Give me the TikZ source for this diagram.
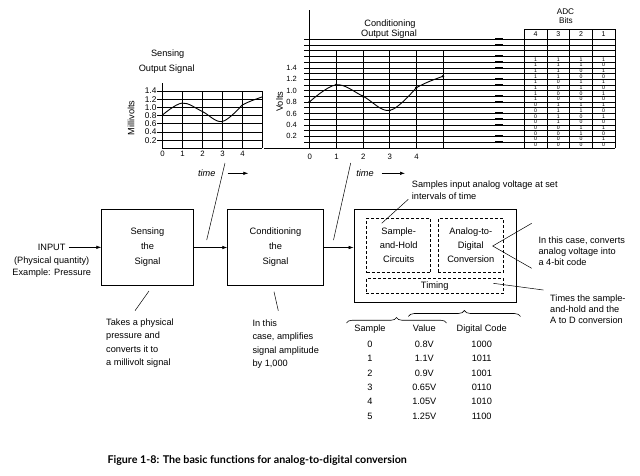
\documentclass[tikz,border=0pt]{standalone}
\usepackage{fontspec}
\setmainfont{Liberation Sans}
\newfontfamily\capfont[Ligatures=NoCommon]{Lato}
\usetikzlibrary{arrows.meta,decorations.pathreplacing}
\begin{document}
\begin{tikzpicture}[x=1pt,y=-1pt,
  every node/.style={inner sep=0pt, font=\fontsize{9.2}{11}\selectfont},
  cl/.style={text height=6.6pt, text depth=0pt},
  blk/.style={draw, line width=0.75pt, align=center, font=\fontsize{9.3}{15}\selectfont},
  dbox/.style={draw, dash pattern=on 3pt off 2pt, line width=0.6pt, align=center, font=\fontsize{9.3}{14}\selectfont},
  arr/.style={-{Latex[length=5pt,width=3.5pt]}, line width=0.6pt},
  ann/.style={line width=0.5pt},
  anntxt/.style={anchor=north west, align=left},
  gridl/.style={line width=0.4pt},
  axisl/.style={line width=0.9pt},
  tick/.style={font=\fontsize{8.3}{9}\selectfont, text height=6pt, text depth=0pt},
  ctick/.style={font=\fontsize{7.5}{9}\selectfont, text height=5.4pt, text depth=0pt},
  num/.style={font=\fontsize{7.8}{9}\selectfont, text height=5.6pt, text depth=0pt},
  dig/.style={font=\fontsize{5.2}{6}\selectfont, text height=3.7pt, text depth=0pt},
  curve/.style={line width=0.9pt}]
\useasboundingbox (0,0) rectangle (640,475);

% ---------------- Sensing output graph ----------------
\node[cl] (st1) at (167.7,52.7) {Sensing};
\node[cl] (st2) at (166.7,68.3) {Output Signal};
\node[cl, rotate=90] (mv) at (131,118) {Millivolts};
\begin{scope}[shift={(162pt,-148.2pt)}, x=20pt, y=41pt]
  \foreach \v in {0.2,0.4,0.6,0.8,1.0,1.2,1.4}{
    \draw[gridl] (0,\v) -- (5,\v);
    \draw[gridl] (-0.25,\v) -- (0,\v);
  }
  \foreach \v/\l in {0.2/0.2,0.4/0.4,0.6/0.6,0.8/0.8,1.0/1.0,1.2/1.2,1.4/1.4}
    \node[tick, anchor=east] (sl\l) at (-0.27,\v) {\l};
  \foreach \i in {1,...,5}
    \draw[gridl] (\i,0) -- (\i,1.4);
  \foreach \i in {0,...,4}
    \node[num] (sn\i) at (\i+0.03,-0.125) {\i};
  \draw[axisl] (0,1.59) -- (0,0) -- (5,0);
  \draw[curve] plot[smooth, tension=0.6] coordinates {(0,0.8) (1,1.1) (2,0.9) (3,0.65) (4,1.05)}
    to[out=28,in=200] (5,1.25);
\end{scope}
\node[cl, font=\itshape\fontsize{9.2}{11}\selectfont] (time1) at (206.7,173.3) {time};
\coordinate (ta1) at (227.7,173.3);
\coordinate (tb1) at (248.3,173.3);
\draw[arr] (ta1) -- (tb1);
\coordinate (s1a) at (225,163);
\coordinate (s1b) at (206.7,240);
\draw[ann] (s1a) -- (s1b);

% ---------------- Conditioning output graph ----------------
\node[cl] (ct1) at (390,22.7) {Conditioning};
\node[cl] (ct2) at (389,33.3) {Output Signal};
\node[cl, rotate=90] (vl) at (279.5,101.7) {Volts};
\foreach \k in {1,...,19}{
  \pgfmathsetmacro\yy{147.5-5.7*\k}
  \draw[gridl] (304,\yy) -- (615,\yy);
  \draw[line width=1.7pt] (495,\yy) -- (502.5,\yy);
}
\foreach \i in {1,...,5}{
  \pgfmathsetmacro\xx{309.5+26.7*\i}
  \draw[gridl] (\xx,50.6) -- (\xx,148);
}
\draw[axisl] (309.5,10) -- (309.5,148);
\draw[axisl] (264,148) -- (615,148);
\foreach \v/\l in {2/0.2,4/0.4,6/0.6,8/0.8,10/1.0,12/1.2,14/1.4}{
  \pgfmathsetmacro\yy{147.5-5.7*\v}
  \node[ctick, anchor=east] (cl\v) at (297,\yy) {\l};
}
\foreach \i in {0,...,4}{
  \pgfmathsetmacro\xx{309.8+26.7*\i}
  \node[num] (cn\i) at (\xx,156.7) {\i};
}
\begin{scope}[shift={(309.5pt,-147.5pt)}, x=26.7pt, y=57pt]
  \draw[curve] plot[smooth, tension=0.6] coordinates {(0,0.8) (1,1.1) (2,0.9) (3,0.65) (4,1.05)}
    to[out=28,in=200] (5,1.25);
  \foreach \i/\v in {0/0.8,1/1.1,2/0.9,3/0.65,4/1.05,5/1.25}
    \fill (\i,\v) circle[radius=1.3pt];
\end{scope}
\node[cl, font=\itshape\fontsize{9.2}{11}\selectfont] (time2) at (365,173.3) {time};
\coordinate (ta2) at (381.7,173.3);
\coordinate (tb2) at (405,173.3);
\draw[arr] (ta2) -- (tb2);
\coordinate (s2a) at (350.7,163);
\coordinate (s2b) at (333.5,240);
\draw[ann] (s2a) -- (s2b);

% ---------------- ADC bits table ----------------
\node[cl, font=\fontsize{8.2}{9}\selectfont, text height=5.9pt] (adch) at (565.5,11.5) {ADC};
\node[cl, font=\fontsize{8.2}{9}\selectfont, text height=5.9pt] (bitsh) at (566,20.5) {Bits};
\draw[gridl] (524.3,29) -- (615,29);
\foreach \j in {0,...,4}{
  \pgfmathsetmacro\xx{524.3+22.675*\j}
  \draw[gridl] (\xx,29) -- (\xx,148);
}
\foreach \c/\h in {0/4,1/3,2/2,3/1}{
  \pgfmathsetmacro\xx{535.6+22.675*\c}
  \node[font=\fontsize{7}{8}\selectfont, text height=5pt, text depth=0pt] (hd\h) at (\xx,34.2) {\h};
}
\foreach \n in {0,...,15}{
  \pgfmathsetmacro\yy{147.5-5.7*(\n+0.5)}
  \foreach \c/\w in {0/8,1/4,2/2,3/1}{
    \pgfmathtruncatemacro\bit{mod(floor(\n/\w),2)}
    \pgfmathsetmacro\xx{535.6+22.675*\c}
    \node[dig] (d\n-\c) at (\xx,\yy) {\bit};
  }
}

% ---------------- Block diagram ----------------
\node[cl] (input) at (51.7,247.3) {INPUT};
\node[align=center, anchor=north, font=\fontsize{9.2}{12.6}\selectfont] (indesc) at (51.7,256.2) {(Physical quantity)\\Example: Pressure};
\node[blk, minimum width=91.6pt, minimum height=76.4pt] (sens) at (147.5,247.5) {Sensing\\the\\Signal};
\node[blk, minimum width=95.6pt, minimum height=76.4pt] (cond) at (275.5,247.5) {Conditioning\\the\\Signal};
\node[draw, line width=0.75pt, minimum width=162pt, minimum height=93.4pt] (adc) at (435,256) {};
\node[dbox, minimum width=64pt, minimum height=54.4pt] (sh) at (398.7,245.5) {Sample-\\and-Hold\\Circuits};
\node[dbox, minimum width=65pt, minimum height=54.4pt] (ad) at (470.8,245.5) {Analog-to-\\Digital\\Conversion};
\node[dbox, minimum width=137.3pt, minimum height=15pt] (tim) at (434.7,285.8) {Timing};

\draw[arr, shorten <=3pt] (input.east) -- (input.east -| sens.west);
\draw[arr] (sens.east) -- (sens.east -| cond.west);
\draw[arr] (cond.east) -- (cond.east -| adc.west);

% ---------------- Annotations ----------------
\node[anntxt, font=\fontsize{9.2}{13.3}\selectfont] (senstxt) at (106,318.6) {Takes a physical\\pressure and\\converts it to\\a millivolt signal};
\coordinate (a1a) at (149,291);
\coordinate (a1b) at (135,310.7);
\draw[ann] (a1a) -- (a1b);

\node[anntxt, font=\fontsize{9.2}{13.3}\selectfont] (condtxt) at (252.3,319.6) {In this\\case, amplifies\\signal amplitude\\by 1,000};
\coordinate (a2a) at (274,291.7);
\coordinate (a2b) at (278.3,310.7);
\draw[ann] (a2a) -- (a2b);

\node[anntxt, font=\fontsize{9.2}{12.7}\selectfont] (samptxt) at (411.7,180.4) {Samples input analog voltage at set\\intervals of time};
\coordinate (a3a) at (408.3,199.3);
\coordinate (a3b) at (381.7,223.3);
\draw[ann] (a3a) -- (a3b);

\node[anntxt, font=\fontsize{9.2}{11}\selectfont] (adtxt) at (538.3,237.1) {In this case, converts\\analog voltage into\\a 4-bit code};
\coordinate (a4a) at (492.7,246);
\coordinate (a4b) at (531.7,223.3);
\coordinate (a4c) at (531.7,268.3);
\draw[ann] (a4b) -- (a4a) -- (a4c);

\node[anntxt, font=\fontsize{9.2}{10.8}\selectfont] (timtxt) at (550,294.7) {Times the sample-\\and-hold and the\\A to D conversion};
\coordinate (a5a) at (493.3,283.3);
\coordinate (a5b) at (543.3,290);
\draw[ann] (a5a) -- (a5b);

% ---------------- Sample table ----------------
\coordinate (b1l) at (346.5,323);
\coordinate (b1r) at (446.5,323);
\draw[decorate, decoration={brace, amplitude=5.5pt}, line width=0.6pt] (b1l) -- (b1r);
\coordinate (b2l) at (408.3,316.5);
\coordinate (b2r) at (520.5,316.5);
\draw[decorate, decoration={brace, amplitude=6pt}, line width=0.6pt] (b2l) -- (b2r);

\node[cl] (hs) at (370,328.3) {Sample};
\node[cl] (hv) at (424.3,328.3) {Value};
\node[cl] (hc) at (481.7,328.3) {Digital Code};
\foreach \r/\v/\c in {0/0.8V/1000,1/1.1V/1011,2/0.9V/1001,3/0.65V/0110,4/1.05V/1010,5/1.25V/1100}{
  \pgfmathsetmacro\yy{344.3+14.34*\r}
  \node[cl] (rs\r) at (370,\yy) {\r};
  \node[cl] (rv\r) at (424.3,\yy) {\v};
  \node[cl] (rc\r) at (481.7,\yy) {\c};
}

% ---------------- Caption ----------------
\node[font=\capfont\bfseries\fontsize{10.7}{13}\selectfont, text height=7.8pt, text depth=0pt] (cap) at (257.2,460) {Figure 1-8: The basic functions for analog-to-digital conversion};
\end{tikzpicture}
\end{document}
